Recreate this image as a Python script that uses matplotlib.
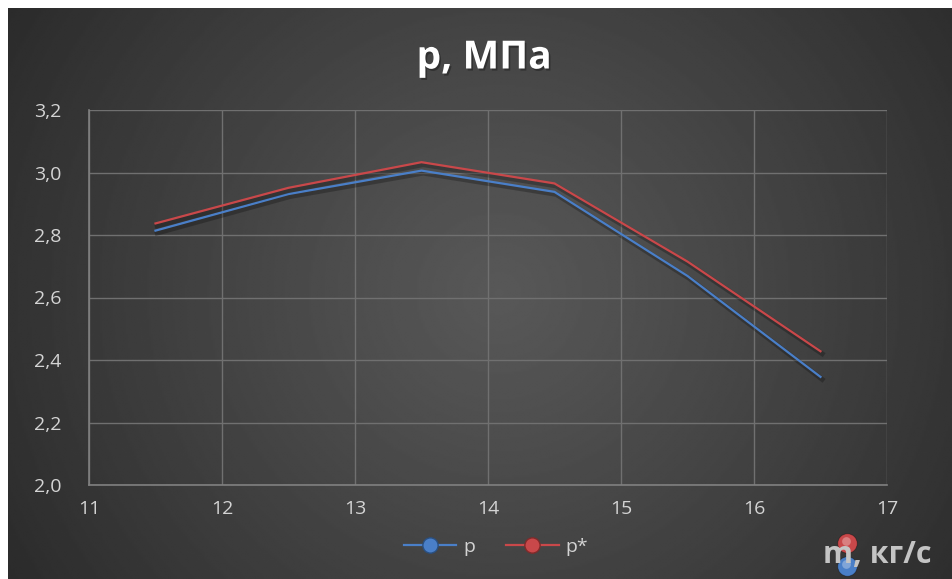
import numpy as np
import matplotlib
matplotlib.use("Agg")
import matplotlib.pyplot as plt
import matplotlib.patheffects as pe
from matplotlib.lines import Line2D
from matplotlib.ticker import FuncFormatter, MultipleLocator

# Mass flow rate, kg/s
m_flow = [11.5, 12.5, 13.5, 14.5, 15.5, 16.5]
# Pressure series, MPa
p_vals = [2.814, 2.931, 3.006, 2.938, 2.669, 2.346]
p_star_vals = [2.837, 2.951, 3.033, 2.965, 2.715, 2.428]

series_names = ["p", "p*"]
title_text = "p, МПа"
xlabel_text = "m, кг/с"

BLUE = "#4a7fc8"
RED = "#c9484a"
TXT = "#d4d4d4"

plt.rcParams["font.family"] = ["Open Sans", "DejaVu Sans"]

W, H = 953, 579
fig = plt.figure(figsize=(W / 100, H / 100), dpi=100, facecolor="white")

# radial gradient backdrop
bg = fig.add_axes([8 / W, 0, 1 - 8 / W, 1 - 8 / H])
bg.set_axis_off()
yy, xx = np.mgrid[0:1:300j, 0:1:500j]
cx, cy = 0.52, 0.50
r = np.sqrt(((xx - cx) * 1.0) ** 2 + ((yy - cy) * 0.62) ** 2)
r = np.clip(r / 0.62, 0, 1)
light, dark = 0.345, 0.165
img = light + (dark - light) * r ** 1.1
bg.imshow(img, cmap="gray", vmin=0, vmax=1, aspect="auto",
          extent=[0, 1, 0, 1], interpolation="bilinear")
bg.set_xlim(0, 1)
bg.set_ylim(0, 1)

ax = fig.add_axes([89 / W, 1 - 485 / H, (887 - 89) / W, (485 - 110) / H])
ax.patch.set_alpha(0)

shadow = [pe.SimpleLineShadow(offset=(1.2, -1.8), shadow_color="black", alpha=0.25, linewidth=3.5), pe.Normal()]
ax.plot(m_flow, p_vals, color=BLUE, lw=1.6, path_effects=shadow, zorder=3)
ax.plot(m_flow, p_star_vals, color=RED, lw=1.6, path_effects=shadow, zorder=3)

ax.set_xlim(11, 17)
ax.set_ylim(2.0, 3.2)
ax.xaxis.set_major_locator(MultipleLocator(1))
ax.yaxis.set_major_locator(MultipleLocator(0.2))
ax.yaxis.set_major_formatter(FuncFormatter(lambda v, _: f"{v:.1f}".replace(".", ",")))
ax.xaxis.set_major_formatter(FuncFormatter(lambda v, _: f"{v:.0f}"))
ax.grid(True, color="#707070", lw=1.0)
ax.set_axisbelow(True)
for side in ("top", "right"):
    ax.spines[side].set_visible(False)
for side in ("left", "bottom"):
    ax.spines[side].set_color("#808080")
    ax.spines[side].set_linewidth(1.2)
ax.tick_params(length=0, colors=TXT, labelsize=14)
ax.tick_params(axis="y", pad=20)
ax.tick_params(axis="x", pad=11)

fig.text(484 / W, 1 - 58 / H, title_text, ha="center", va="center",
         fontsize=28, fontweight="bold", color="white",
         path_effects=[pe.withSimplePatchShadow(offset=(1.2, -1.5), shadow_rgbFace="black", alpha=0.3)])


def sphere(x, y, color, size):
    fig.lines.append(Line2D([x], [y], transform=fig.transFigure, marker="o",
                            ms=size, mfc=color, mec="#00000055", mew=0.6, ls="none"))
    fig.lines.append(Line2D([x - 0.0015], [y + 0.004], transform=fig.transFigure, marker="o",
                            ms=size * 0.45, mfc="white", mec="none", alpha=0.3, ls="none"))


# legend
handles = [Line2D([0], [0], color=BLUE, lw=1.6, marker="o", ms=11, mfc=BLUE, mec="#2a4f80"),
           Line2D([0], [0], color=RED, lw=1.6, marker="o", ms=11, mfc=RED, mec="#802a2a")]
fig.legend(handles, series_names, loc="center", bbox_to_anchor=(496 / W, 1 - 547 / H),
           ncol=2, frameon=False, fontsize=14, labelcolor=TXT, handlelength=2.7,
           columnspacing=1.6, handletextpad=0.35)

# axis title with decorative spheres
fig.text(877 / W, 1 - 555 / H, xlabel_text, ha="center", va="center",
         fontsize=22, fontweight="bold", color="#c4c4c4")
sphere(847 / W, 1 - 543 / H, RED, 14)
sphere(847 / W, 1 - 566 / H, BLUE, 14)

fig.savefig("out.png", dpi=100, facecolor=fig.get_facecolor())
